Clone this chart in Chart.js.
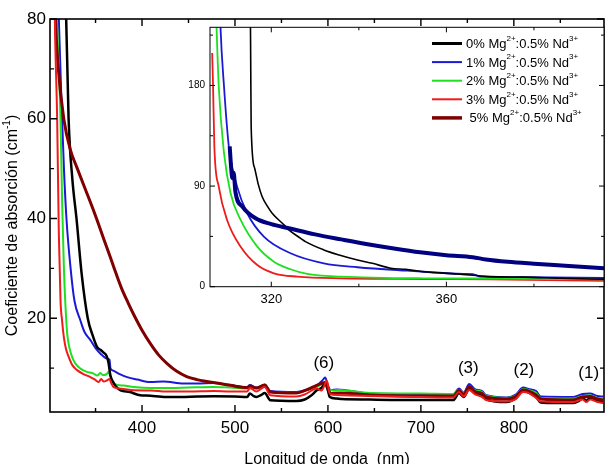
<!DOCTYPE html>
<html>
<head>
<meta charset="utf-8">
<script src="https://cdn.jsdelivr.net/npm/chart.js@4.4.0/dist/chart.umd.min.js"></script>
<style>
  body { margin: 0; background: #fff; }
  #wrap { position: relative; width: 610px; height: 464px; }
  #wrap canvas { position: absolute; left: 0; top: 0; }
</style>
</head>
<body>
<div id="wrap">
  <canvas id="main" width="610" height="464"></canvas>
  <canvas id="inset" width="610" height="464"></canvas>
</div>
<script>
const FONT = 'Arial, "Liberation Sans", sans-serif';

// series names and colours
const series = ['0%', '1%', '2%', '3%', '5%'];
const colors = ['#000000', '#1a1ad6', '#1ee01e', '#ee1b1b', '#800000'];

// main plot: wavelength (nm) / absorption coefficient (cm-1), one pair per series
const wl0 = [316.5, 318.4, 321, 325, 329.5, 335, 341.6, 347, 351.7, 355, 358, 362, 364, 366, 369, 372, 377, 387, 398, 405, 426, 441, 460, 477, 500, 513, 516, 520, 523, 528, 532, 538, 550, 566, 575, 582, 588, 593, 597, 600, 602, 609, 615, 645, 700, 735, 741, 746, 752, 758, 766, 770, 780, 792, 802, 810, 815, 824, 829, 845, 864, 870, 874, 878, 882, 890, 896];
const abs0 = [100, 80, 60, 48, 40, 29, 20, 16.5, 14.2, 13.7, 13.2, 12.4, 11, 8.5, 7.2, 6.3, 5.55, 5.2, 4.55, 4.5, 4.2, 4.2, 4.3, 4.35, 4.3, 4.2, 4.9, 4.4, 4.2, 4.6, 5.0, 3.55, 3.45, 3.4, 3.7, 4.5, 5.55, 6.0, 6.9, 5.5, 4.2, 3.9, 3.8, 3.7, 3.6, 3.6, 5.0, 4.2, 5.8, 5.0, 4.4, 3.8, 3.3, 3.2, 3.9, 5.4, 5.2, 4.2, 3.1, 3.0, 3.0, 3.4, 3.9, 3.5, 4.0, 3.5, 3.3];

const wl1 = [308, 310.5, 314, 316, 318.7, 323, 327.3, 333.8, 338, 344.5, 350, 355.3, 362.5, 365, 366, 369, 376, 384, 395, 409, 423, 444.7, 459, 477, 495, 513, 516, 523, 532, 538, 566, 575, 588, 594, 597, 600, 603, 610, 645, 700, 735, 741, 746, 752, 758, 766, 770, 792, 802, 810, 816, 824, 829, 864, 874, 882, 890, 896];
const abs1 = [100, 80, 60, 50, 40, 30.3, 23.5, 19.5, 17.3, 15.6, 14, 12.9, 11.9, 11.7, 10.0, 9.5, 8.8, 8.2, 7.7, 7.2, 7.3, 6.9, 6.9, 7.0, 6.6, 6.2, 6.6, 6.1, 6.6, 5.4, 5.2, 5.5, 6.5, 7.5, 8.1, 6.5, 5.6, 5.7, 4.9, 4.8, 4.8, 5.9, 5.1, 6.8, 5.8, 5.4, 4.6, 4.1, 4.7, 6.1, 5.8, 5.4, 4.3, 4.2, 4.8, 4.9, 4.4, 4.3];

const wl2 = [306, 308.5, 312.3, 314, 315.9, 317.5, 319.5, 322, 324.9, 328, 333.8, 340, 348, 352, 355, 358, 362, 364, 366, 369.5, 380, 391, 410, 426, 450, 477, 495, 513, 516, 523, 532, 538, 566, 575, 588, 594, 597, 600, 605, 612, 645, 700, 735, 741, 746, 752, 758, 766, 770, 792, 802, 810, 816, 824, 829, 864, 874, 882, 890, 896];
const abs2 = [100, 80, 60, 43.7, 30.3, 23, 16.9, 14, 12.2, 11, 9.9, 9.3, 8.9, 8.5, 9.0, 8.6, 8.8, 9.2, 8.3, 6.9, 6.5, 6.2, 6.0, 6.0, 6.1, 6.2, 6.1, 5.9, 6.4, 5.9, 6.7, 5.2, 5.05, 5.5, 6.2, 6.8, 7.0, 6.0, 5.5, 5.6, 5.0, 4.9, 4.8, 5.6, 5.0, 6.3, 5.6, 5.2, 4.5, 4.0, 4.5, 5.8, 5.6, 5.0, 4.0, 3.9, 4.4, 4.5, 4.0, 3.9];

const wl3 = [305, 306.2, 308.7, 310.5, 312.3, 314, 315.9, 318, 321.2, 325, 330.2, 337, 344.5, 350, 353.4, 356, 359, 362, 365, 367, 369.5, 380, 391, 410, 426, 450, 477, 495, 513, 516, 523, 532, 538, 566, 575, 588, 593, 599, 602, 610, 645, 700, 735, 741, 746, 752, 758, 766, 770, 792, 802, 810, 816, 824, 829, 864, 874, 878, 882, 890, 896];
const abs3 = [100, 80, 60, 37, 23.6, 19.5, 16.2, 14, 12.2, 10.6, 9.6, 8.8, 8.2, 7.6, 7.2, 7.8, 7.3, 7.5, 7.8, 6.9, 6.2, 5.8, 5.55, 5.5, 5.3, 5.3, 5.4, 5.3, 5.3, 6.0, 5.3, 6.2, 4.55, 4.3, 4.7, 5.9, 5.5, 7.4, 4.9, 4.6, 4.4, 4.2, 4.1, 5.2, 4.3, 5.6, 4.8, 4.2, 3.6, 3.3, 3.8, 5.2, 5.0, 4.0, 3.3, 3.2, 3.7, 3.2, 3.7, 3.2, 3.0];

const wl5 = [304.5, 306.9, 310, 315.8, 323, 330, 337, 345, 352, 359, 366, 372, 378, 385, 392, 400, 409, 418, 427, 437, 448, 459, 470, 480, 495, 513, 516, 523, 532, 538, 566, 575, 585, 594, 597, 603, 612, 645, 700, 735, 741, 746, 752, 758, 766, 770, 792, 802, 810, 816, 824, 829, 864, 874, 882, 890, 896];
const abs5 = [100, 80, 70, 60, 53.7, 50.2, 46.8, 43.0, 39.5, 35.8, 32.2, 29.0, 26.0, 23.1, 20.4, 17.6, 14.9, 12.6, 10.9, 9.4, 8.3, 7.7, 7.3, 7.0, 6.55, 6.1, 6.4, 6.0, 6.6, 5.2, 5.0, 5.5, 6.3, 7.0, 7.1, 4.9, 5.0, 4.6, 4.4, 4.4, 5.5, 4.7, 6.3, 5.3, 4.9, 4.2, 3.8, 4.3, 5.6, 5.4, 4.6, 3.8, 3.6, 4.2, 4.3, 3.8, 3.6];

// inset: UV edge
const iwl0 = [315.2, 315.3, 315.4, 316.2, 317, 317.9, 319.1, 320.2, 322.9, 324, 326.7, 327.8, 332, 335.5, 339.7, 343.1, 347.3, 350.7, 354.9, 362.5, 370, 377.7, 386, 396];
const iabs0 = [260, 200, 143.6, 106, 92, 80.6, 72, 65.7, 55.3, 50.8, 43.3, 40.3, 32.9, 28.4, 23.9, 20.9, 16.5, 15.5, 13.4, 11.4, 9.0, 8.6, 7.6, 6.6];
const iwl1 = [308.2, 308.4, 309.2, 310.3, 312.2, 314.5, 318.3, 324.4, 332, 339.7, 351.1, 364, 366, 367.8, 377.7, 396];
const iabs1 = [260, 232, 179, 125.4, 89.5, 65.7, 44.8, 29.9, 20.9, 17.4, 14.3, 11.4, 11.2, 9.0, 8.6, 7.8];
const iwl2 = [307.3, 307.5, 308, 309.2, 310.7, 313, 316.8, 320.6, 324.4, 328.2, 335.8, 354.9, 375, 396];
const iabs2 = [260, 232, 179, 119.5, 83.6, 59.7, 35.8, 22.4, 15.6, 11.4, 9.0, 7.5, 7.3, 6.6];
const iwl3 = [306.5, 306.7, 307, 308, 309.9, 313, 316.8, 320.6, 326, 335.8, 354.9, 370, 396];
const iabs3 = [209, 179, 125, 89.5, 59.7, 35.8, 19.4, 12.0, 9.0, 7.5, 6.9, 6.6, 5.2];
const iwl5 = [310.5, 310.8, 311.1, 311.4, 311.8, 313.4, 316.4, 320, 324, 330, 336, 342, 348, 354, 360, 366, 369, 374, 380, 388, 396];
const iabs5 = [125.4, 108, 97, 102, 85, 71.6, 61.2, 56, 52.3, 46.8, 42.3, 38, 34.2, 30.8, 28.2, 26.4, 24.4, 22.3, 20.6, 18.6, 16.5];

// tick labels
const xTicks = [400, 500, 600, 700, 800];
const yTicks = [20, 40, 60, 80];
const insetXTicks = [320, 360];
const insetYTicks = [0, 90, 180];

// band labels
const peakLabels = ['(6)', '(3)', '(2)', '(1)'];
const peakWl = [595.6, 751, 810.8, 880.6];
const peakAbs = [10.9, 10.0, 9.56, 9.0];

function pts(xs, ys) {
  return xs.map((x, i) => ({ x: x, y: ys[i] }));
}

function minors(min, max, step, major) {
  const out = [];
  for (let v = Math.ceil(min / step) * step; v <= max; v += step) {
    if (major.indexOf(v) < 0) out.push(v);
  }
  return out;
}

// frame + inward ticks on all four sides
function framePlugin(o) {
  return {
    id: 'frame',
    afterDatasetsDraw(chart) {
      const { ctx, chartArea: a, scales } = chart;
      const x = scales.x, y = scales.y;
      ctx.save();
      ctx.strokeStyle = '#000';
      ctx.lineWidth = o.lw;
      ctx.strokeRect(a.left, a.top, a.right - a.left, a.bottom - a.top);
      ctx.lineWidth = o.tw;
      ctx.beginPath();
      const xMin = minors(x.min, x.max, o.xMinor, o.xMajor);
      const yMin = minors(y.min, y.max, o.yMinor, o.yMajor);
      [[o.xMajor, o.big], [xMin, o.small]].forEach(([vals, len]) => {
        vals.forEach(v => {
          const px = x.getPixelForValue(v);
          ctx.moveTo(px, a.bottom); ctx.lineTo(px, a.bottom - len);
          ctx.moveTo(px, a.top); ctx.lineTo(px, a.top + len);
        });
      });
      [[o.yMajor, o.big], [yMin, o.small]].forEach(([vals, len]) => {
        vals.forEach(v => {
          const py = y.getPixelForValue(v);
          ctx.moveTo(a.left, py); ctx.lineTo(a.left + len, py);
          ctx.moveTo(a.right, py); ctx.lineTo(a.right - len, py);
        });
      });
      ctx.stroke();
      ctx.restore();
    }
  };
}

// ---------- main chart ----------
const mainWl = [wl0, wl1, wl2, wl3, wl5];
const mainAbs = [abs0, abs1, abs2, abs3, abs5];
const mainWidth = [2.5, 2, 2, 2, 3];
const mainOrder = [2, 4, 3, 0, 1];

const mainLabels = {
  id: 'mainLabels',
  afterDraw(chart) {
    const { ctx, chartArea: a, scales: { x, y } } = chart;
    ctx.save();
    ctx.fillStyle = '#000';
    ctx.font = '17px ' + FONT;
    ctx.textAlign = 'center';
    ctx.textBaseline = 'middle';
    peakLabels.forEach((t, i) => {
      ctx.fillText(t, x.getPixelForValue(peakWl[i]), y.getPixelForValue(peakAbs[i]));
    });
    // x title
    ctx.font = '16px ' + FONT;
    ctx.fillText('Longitud de onda  (nm)', (a.left + a.right) / 2, 460);
    // y title with superscript
    ctx.translate(13, (a.top + a.bottom) / 2 + 10);
    ctx.rotate(-Math.PI / 2);
    const p1 = 'Coeficiente de absorción (cm';
    ctx.font = '16px ' + FONT;
    const w1 = ctx.measureText(p1).width;
    ctx.font = '10px ' + FONT;
    const w2 = ctx.measureText('-1').width;
    ctx.font = '16px ' + FONT;
    const w3 = ctx.measureText(')').width;
    let cx = -(w1 + w2 + w3) / 2;
    ctx.textAlign = 'left';
    ctx.fillText(p1, cx, 0);
    cx += w1;
    ctx.font = '10px ' + FONT;
    ctx.fillText('-1', cx, -6);
    cx += w2;
    ctx.font = '16px ' + FONT;
    ctx.fillText(')', cx, 0);
    ctx.restore();
  }
};

new Chart(document.getElementById('main'), {
  type: 'line',
  data: {
    datasets: series.map((s, i) => ({
      label: s,
      data: pts(mainWl[i], mainAbs[i]),
      borderColor: colors[i],
      borderWidth: mainWidth[i],
      pointRadius: 0,
      cubicInterpolationMode: 'monotone',
      order: mainOrder[i]
    }))
  },
  options: {
    responsive: false,
    animation: false,
    layout: { padding: { top: 19, right: 6, left: 0, bottom: 0 } },
    plugins: { legend: { display: false }, tooltip: { enabled: false } },
    scales: {
      x: {
        type: 'linear', min: 301, max: 897,
        afterBuildTicks: s => { s.ticks = xTicks.map(v => ({ value: v })); },
        afterFit: s => { s.height = 52; },
        grid: { display: false, drawTicks: false },
        border: { display: false },
        ticks: { color: '#000', font: { size: 17, family: FONT }, padding: 6, maxRotation: 0 }
      },
      y: {
        type: 'linear', min: 1.2, max: 80,
        afterBuildTicks: s => { s.ticks = yTicks.map(v => ({ value: v })); },
        afterFit: s => { s.width = 50; },
        grid: { display: false, drawTicks: false },
        border: { display: false },
        ticks: { color: '#000', font: { size: 17, family: FONT }, padding: 4 }
      }
    }
  },
  plugins: [framePlugin({ lw: 1.6, tw: 1.4, big: 7, small: 4, xMajor: xTicks, xMinor: 50, yMajor: yTicks, yMinor: 10 }), mainLabels]
});

// ---------- inset ----------
const insetWl = [iwl0, iwl1, iwl2, iwl3, iwl5];
const insetAbs = [iabs0, iabs1, iabs2, iabs3, iabs5];
const insetColors = ['#000000', '#1a1ad6', '#1ee01e', '#ee1b1b', '#000080'];
const insetWidth = [1.6, 1.8, 1.8, 1.8, 4];
const legendWidth = [3, 2, 2, 2, 3.5];

const insetBg = {
  id: 'insetBg',
  beforeDraw(chart) {
    const { ctx, chartArea: a } = chart;
    ctx.save();
    ctx.fillStyle = '#fff';
    ctx.fillRect(a.left, a.top, a.right - a.left, a.bottom - a.top);
    ctx.restore();
  }
};

const insetLegend = {
  id: 'insetLegend',
  afterDraw(chart) {
    const { ctx } = chart;
    ctx.save();
    ctx.fillStyle = '#000';
    ctx.textBaseline = 'middle';
    series.forEach((s, i) => {
      const yy = 43.5 + i * 18.6;
      ctx.strokeStyle = colors[i];
      ctx.lineWidth = legendWidth[i];
      ctx.beginPath();
      ctx.moveTo(432, yy); ctx.lineTo(462, yy);
      ctx.stroke();
      const parts = [[(i === 4 ? ' ' : '') + s + ' Mg', 0], ['2+', 1], [':0.5% Nd', 0], ['3+', 1]];
      let cx = 466;
      parts.forEach(([t, sup]) => {
        ctx.font = (sup ? '8px ' : '13px ') + FONT;
        ctx.fillText(t, cx, sup ? yy - 5 : yy + 1);
        cx += ctx.measureText(t).width;
      });
    });
    ctx.restore();
  }
};

new Chart(document.getElementById('inset'), {
  type: 'line',
  data: {
    datasets: series.map((s, i) => ({
      label: s,
      data: pts(insetWl[i], insetAbs[i]),
      borderColor: insetColors[i],
      borderWidth: insetWidth[i],
      pointRadius: 0,
      cubicInterpolationMode: 'monotone',
      order: i === 4 ? 0 : i + 1
    }))
  },
  options: {
    responsive: false,
    animation: false,
    layout: { padding: { top: 27.3, right: 6, left: 0, bottom: 0 } },
    plugins: { legend: { display: false }, tooltip: { enabled: false } },
    scales: {
      x: {
        type: 'linear', min: 306, max: 396,
        afterBuildTicks: s => { s.ticks = insetXTicks.map(v => ({ value: v })); },
        afterFit: s => { s.height = 464 - 286.7; },
        grid: { display: false, drawTicks: false },
        border: { display: false },
        ticks: { color: '#000', font: { size: 13, family: FONT }, padding: 5, maxRotation: 0 }
      },
      y: {
        type: 'linear', min: 0, max: 232,
        afterBuildTicks: s => { s.ticks = insetYTicks.map(v => ({ value: v })); },
        afterFit: s => { s.width = 210; },
        grid: { display: false, drawTicks: false },
        border: { display: false },
        ticks: { color: '#000', font: { size: 10, family: FONT }, padding: 5 }
      }
    }
  },
  plugins: [insetBg, framePlugin({ lw: 1, tw: 1, big: 5, small: 3, xMajor: insetXTicks, xMinor: 20, yMajor: insetYTicks, yMinor: 45 }), insetLegend]
});
</script>
</body>
</html>
